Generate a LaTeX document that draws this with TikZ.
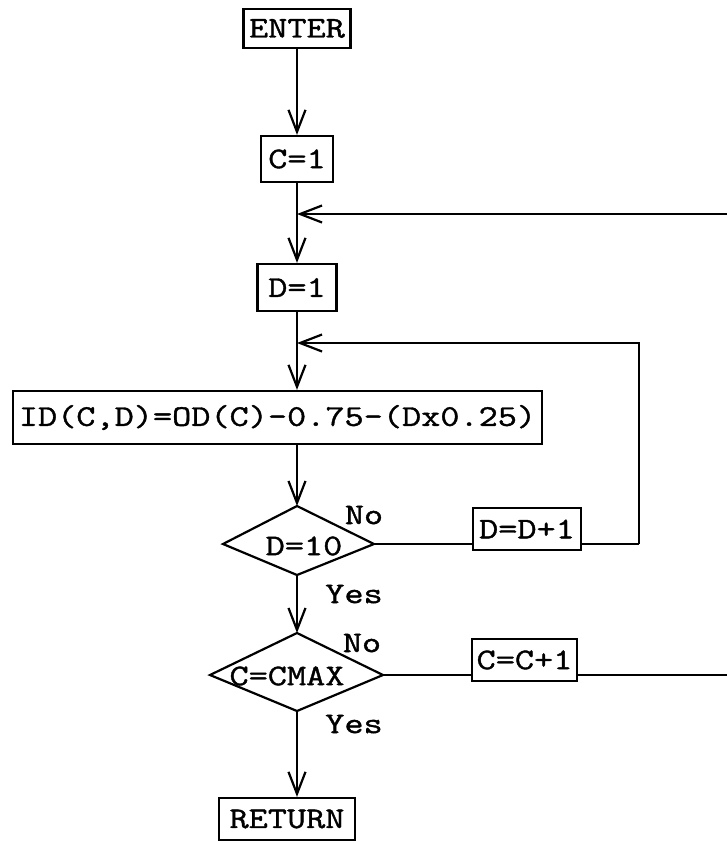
\documentclass[tikz,border=0pt]{standalone}
\usepackage{fontspec}
\setmonofont[FakeStretch=1.24,FakeBold=1.3]{Latin Modern Mono}
\usetikzlibrary{arrows.meta}
\begin{document}
\begin{tikzpicture}[x=1pt,y=-1pt,
  every node/.style={font=\ttfamily\fontsize{30}{32}\selectfont,inner sep=0pt},
  box/.style={draw,line width=2.2pt},
  line/.style={line width=2.2pt},
  arr/.style={line width=2.2pt,-{Straight Barb[length=22pt,width=17pt]}}
]
\useasboundingbox (0,0) rectangle (727,844);

% boxes
\node[box,minimum width=107pt,minimum height=39pt] (enter) at (297,28.5) {ENTER};
\node[box,minimum width=72pt,minimum height=46pt] (c1) at (297,159) {C=1};
\node[box,minimum width=79pt,minimum height=47pt] (d1) at (297,287.5) {D=1};
\node[box,minimum width=529pt,minimum height=53pt] (id) at (277.5,417.5) {ID(C,D)=OD(C)-0.75-(Dx0.25)};
\node[box,minimum width=108pt,minimum height=42pt] (dd) at (527,529) {D=D+1};
\node[box,minimum width=105pt,minimum height=42pt] (cc) at (524.5,660) {C=C+1};
\node[box,minimum width=136pt,minimum height=42pt] (ret) at (287,819) {RETURN};

% diamond D=10
\coordinate (d10n) at (297,506);
\coordinate (d10e) at (374,544);
\coordinate (d10s) at (297,575);
\coordinate (d10w) at (223,544);
\draw[line,line join=miter] (d10n) -- (d10e) -- (d10s) -- (d10w) -- cycle;
\node (d10) at (304,546) {D=10};

% diamond C=CMAX
\coordinate (cmn) at (297,633);
\coordinate (cme) at (383,675);
\coordinate (cms) at (297,711);
\coordinate (cmw) at (210,675);
\draw[line,line join=miter] (cmn) -- (cme) -- (cms) -- (cmw) -- cycle;
\node (cm) at (287,676) {C=CMAX};

% labels
\node (no1) at (364,515) {No};
\node (yes1) at (354,594) {Yes};
\node (no2) at (362,643) {No};
\node (yes2) at (354,724) {Yes};

% junctions and corners
\coordinate (j1) at (297,214);
\coordinate (e1) at (727,214);
\coordinate (j2) at (297,343);
\coordinate (k1) at (639,544);
\coordinate (k2) at (639,343);
\coordinate (e2) at (727,675);

% connectors
\draw[arr] (enter.south) -- (enter.south |- c1.north);
\draw[arr] (c1.south) -- (c1.south |- d1.north);
\draw[arr] (e1) -- (j1);
\draw[arr] (d1.south -| j2) -- (j2 |- id.north);
\draw[arr] (k1) -- (k2) -- (j2);
\draw[line] (dd.east |- k1) -- (k1);
\draw[arr] (id.south -| d10n) -- (d10n);
\draw[line] (d10e) -- (d10e -| dd.west);
\draw[arr] (d10s) -- (cmn);
\draw[line] (cme) -- (cme -| cc.west);
\draw[line] (cme -| cc.east) -- (e2);
\draw[arr] (cms) -- (cms |- ret.north);
\end{tikzpicture}
\end{document}
